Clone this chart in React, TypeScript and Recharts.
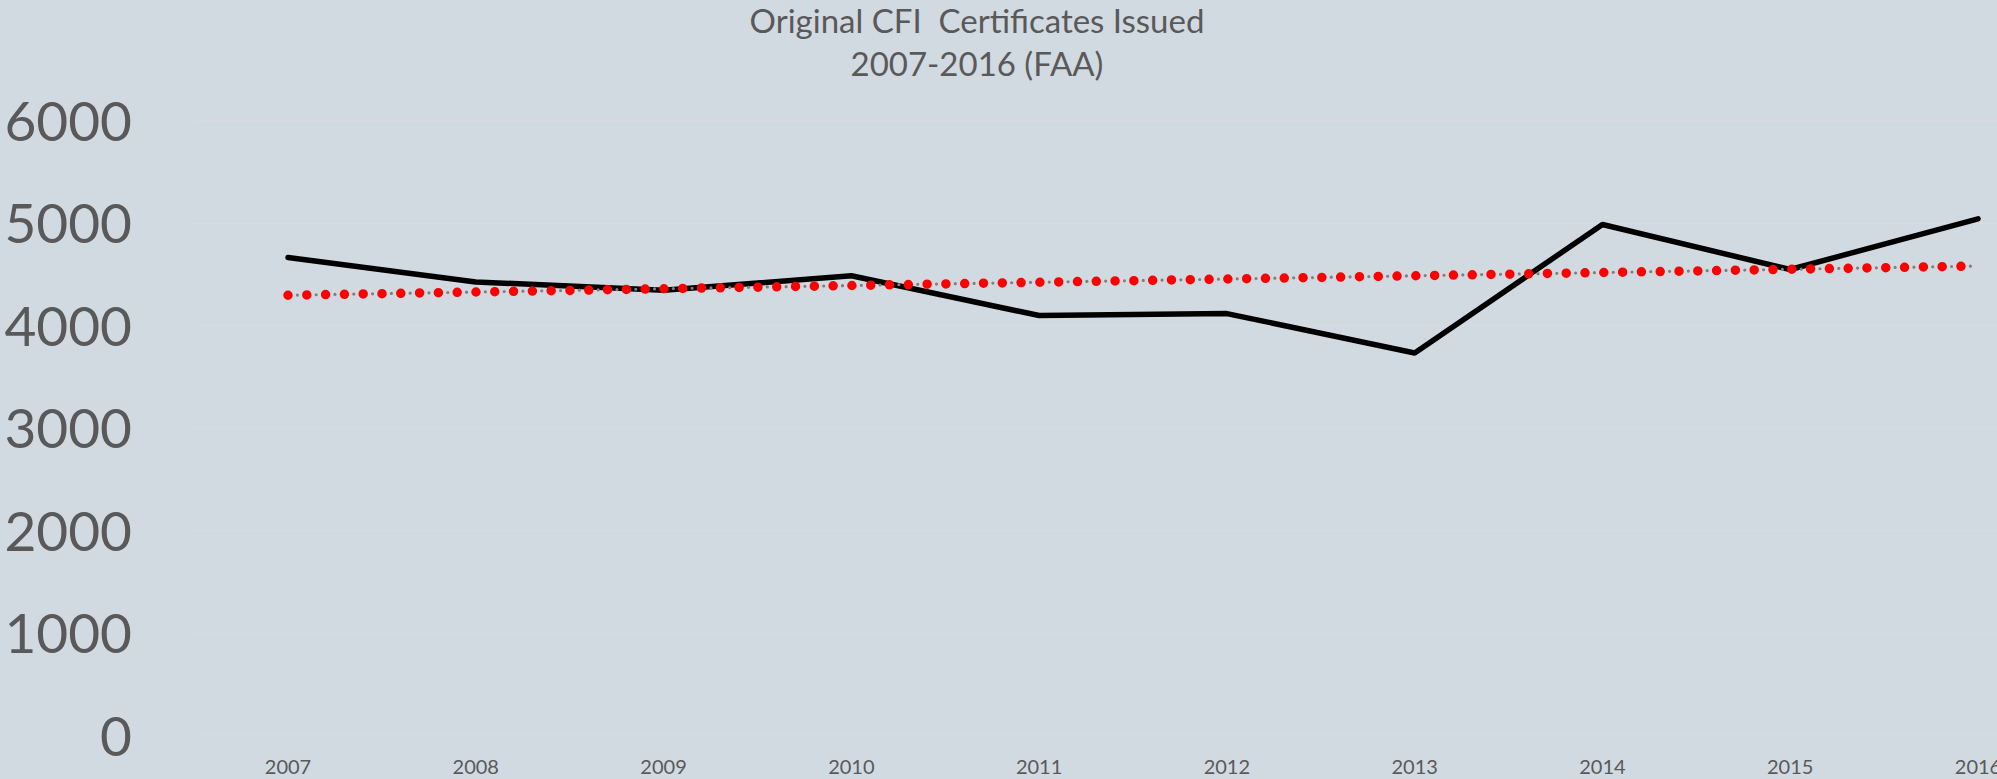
import { LineChart, Line, XAxis, YAxis, CartesianGrid } from 'recharts'

const YEARS = ['2007', '2008', '2009', '2010', '2011', '2012', '2013', '2014', '2015', '2016']
const CERTIFICATES = [4668, 4430, 4349, 4490, 4102, 4121, 3737, 4990, 4551, 5046]
// linear trend line, read at its two ends (2007 and 2016)
const TREND_ENDS = [4300, 4585]
const Y_TICKS = [0, 1000, 2000, 3000, 4000, 5000, 6000]

const data = YEARS.map((year, i) => ({
  year,
  value: CERTIFICATES[i],
  trend: i === 0 ? TREND_ENDS[0] : i === YEARS.length - 1 ? TREND_ENDS[1] : null,
}))

const TEXT = '#595959'
const FONT = 'Lato, "Open Sans", sans-serif'

export default function App() {
  return (
    <div style={{ position: 'absolute', left: 0, top: 0, width: 1997, height: 779, background: '#D1DAE1' }}>
      <LineChart width={1997} height={779} data={data} margin={{ top: 121, right: 0, bottom: 0, left: 0 }}>
        <text x={977} y={33} textAnchor="middle" fontSize={33} fill={TEXT} fontFamily={FONT} style={{ whiteSpace: 'pre' }}>
          {'Original CFI  Certificates Issued'}
        </text>
        <text x={977} y={76} textAnchor="middle" fontSize={33} fill={TEXT} fontFamily={FONT}>
          2007-2016 (FAA)
        </text>
        <CartesianGrid vertical={false} stroke="#DCDADB" strokeWidth={1} />
        <XAxis
          dataKey="year"
          height={43}
          axisLine={false}
          tickLine={false}
          tickSize={0}
          tickMargin={24}
          interval={0}
          padding={{ left: 95, right: 19 }}
          tick={{ fontSize: 20, fill: TEXT, fontFamily: FONT }}
        />
        <YAxis
          width={193}
          domain={[0, 6000]}
          ticks={Y_TICKS}
          axisLine={false}
          tickLine={false}
          tickSize={0}
          tickMargin={61}
          tick={{ fontSize: 55, fill: TEXT, fontFamily: FONT }}
        />
        <Line
          dataKey="value"
          stroke="#000000"
          strokeWidth={5.5}
          strokeLinecap="round"
          strokeLinejoin="round"
          dot={false}
          isAnimationActive={false}
        />
        <Line
          dataKey="trend"
          connectNulls
          stroke="#7F7F7F"
          strokeWidth={3.2}
          strokeDasharray="0 9.4"
          strokeLinecap="round"
          dot={false}
          isAnimationActive={false}
        />
        <Line
          dataKey="trend"
          connectNulls
          stroke="#FF0000"
          strokeWidth={9.5}
          strokeDasharray="0 18.8"
          strokeLinecap="round"
          dot={false}
          isAnimationActive={false}
        />
      </LineChart>
    </div>
  )
}
